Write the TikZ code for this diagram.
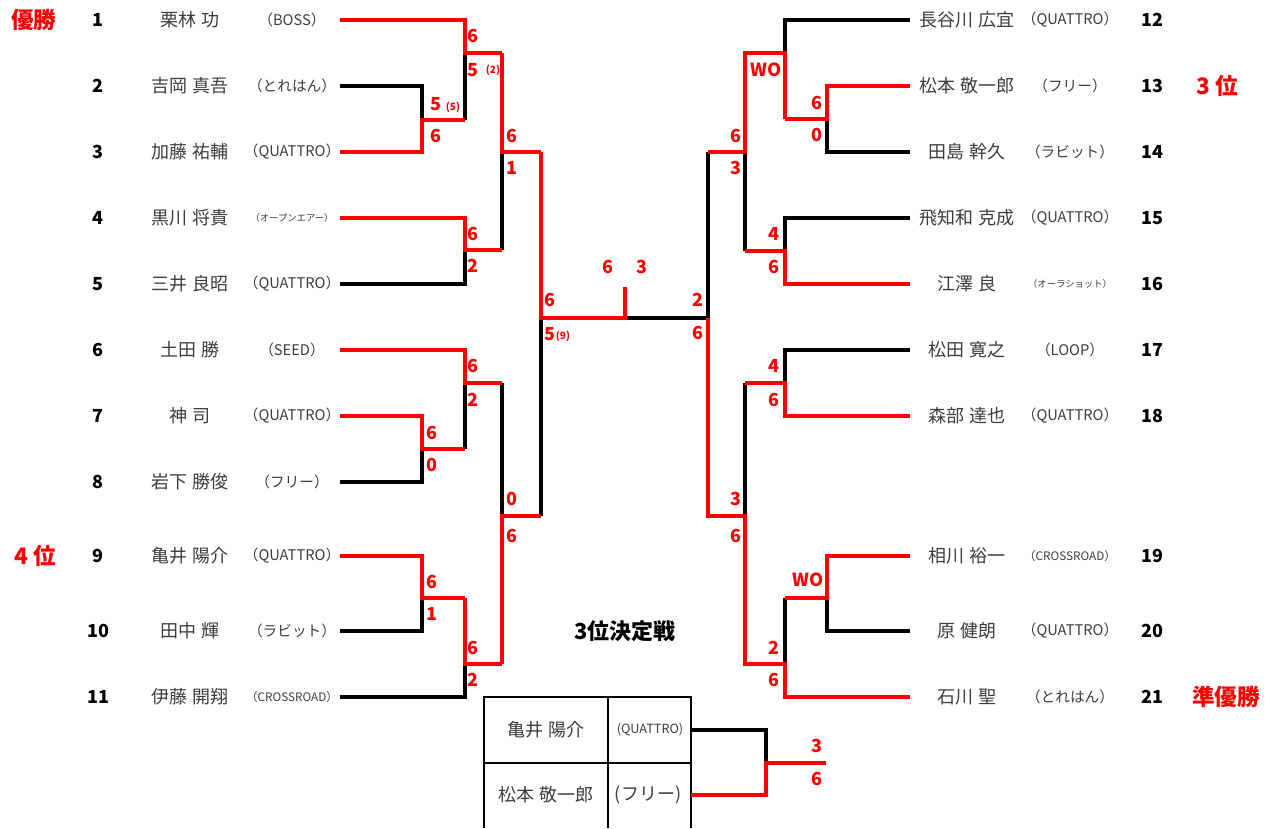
\documentclass[tikz,border=0pt]{standalone}
\usepackage{fontspec}
\setmainfont{Noto Sans CJK JP}
\definecolor{tred}{RGB}{255,0,0}
\definecolor{ngray}{RGB}{60,60,60}
\tikzset{every picture/.style={line width=0.75pt}}

\begin{document}
\begin{tikzpicture}[x=0.75pt,y=0.75pt,yscale=-1,xscale=1,
	win/.style={draw=tred,line width=3pt},
	lose/.style={draw=black,line width=2.6pt},
	tbl/.style={draw=black,line width=1.5pt},
	sc/.style={text=tred,font=\fontsize{13.5}{15}\selectfont\bfseries,inner sep=0pt},
	scs/.style={text=tred,font=\fontsize{7.5}{9}\selectfont\bfseries,inner sep=0pt},
	num/.style={font=\fontsize{13.5}{15}\selectfont\bfseries,inner sep=0pt},
	nm/.style={text=ngray,font=\fontsize{13.5}{15}\selectfont,inner sep=0pt},
	tm/.style={text=ngray,font=\fontsize{11}{13}\selectfont,inner sep=0pt},
	tmx/.style={text=ngray,font=\fontsize{8.8}{10}\selectfont,inner sep=0pt},
	tms/.style={text=ngray,font=\fontsize{7}{8}\selectfont,inner sep=0pt},
	rank/.style={text=tred,font=\fontsize{17}{19}\selectfont\bfseries,inner sep=0pt}]
	\useasboundingbox (0,0) rectangle (1277,828);
	
	%left players
	\coordinate (L1) at (340,20);
	\coordinate (L2) at (340,86);
	\coordinate (L3) at (340,152);
	\coordinate (L4) at (340,218);
	\coordinate (L5) at (340,284);
	\coordinate (L6) at (340,350);
	\coordinate (L7) at (340,416);
	\coordinate (L8) at (340,482);
	\coordinate (L9) at (340,556);
	\coordinate (L10) at (340,631);
	\coordinate (L11) at (340,697);
	%right players
	\coordinate (R12) at (910,20);
	\coordinate (R13) at (910,86);
	\coordinate (R14) at (910,152);
	\coordinate (R15) at (910,218);
	\coordinate (R16) at (910,284);
	\coordinate (R17) at (910,350);
	\coordinate (R18) at (910,416);
	\coordinate (R19) at (910,556);
	\coordinate (R20) at (910,631);
	\coordinate (R21) at (910,697);
	
	%match points
	\coordinate (m23) at (422,120);
	\coordinate (m13) at (465,53);
	\coordinate (m45) at (465,250);
	\coordinate (m15) at (502,152);
	\coordinate (m78) at (422,449);
	\coordinate (m68) at (465,383);
	\coordinate (m910) at (422,598);
	\coordinate (m911) at (465,664);
	\coordinate (m611) at (502,516);
	\coordinate (mL) at (541,318);
	\coordinate (fin) at (625,318);
	\coordinate (finT) at (625,287);
	\coordinate (m1314) at (827,119);
	\coordinate (m1214) at (785,53);
	\coordinate (m1516) at (785,251);
	\coordinate (m1216) at (745,152);
	\coordinate (m1718) at (785,383);
	\coordinate (m1920) at (827,598);
	\coordinate (m1921) at (785,664);
	\coordinate (m1721) at (745,516);
	\coordinate (mR) at (708,318);
	
	%losers
	\draw[lose] (L2) -| (m23);
	\draw[lose] (m23 -| m13) -- (m13);
	\draw[lose] (L5) -| (m45);
	\draw[lose] (m45 -| m15) -- (m15);
	\draw[lose] (L8) -| (m78);
	\draw[lose] (m78 -| m68) -- (m68);
	\draw[lose] (L10) -| (m910);
	\draw[lose] (L11) -| (m911);
	\draw[lose] (m68 -| m611) -- (m611);
	\draw[lose] (m611 -| mL) -- (mL);
	\draw[lose] (fin) -- (mR);
	\draw[lose] (R12) -| (m1214);
	\draw[lose] (R14) -| (m1314);
	\draw[lose] (R15) -| (m1516);
	\draw[lose] (m1516 -| m1216) -- (m1216);
	\draw[lose] (m1216 -| mR) -- (mR);
	\draw[lose] (R17) -| (m1718);
	\draw[lose] (m1718 -| m1721) -- (m1721);
	\draw[lose] (R20) -| (m1920);
	\draw[lose] (m1920 -| m1921) -- (m1921);
	
	%winners
	\draw[win] (L3) -| (m23) -- (m23 -| m13);
	\draw[win] (L1) -| (m13) -- (m13 -| m15);
	\draw[win] (L4) -| (m45) -- (m45 -| m15);
	\draw[win] (m13 -| m15) -- (m15) -- (m15 -| mL);
	\draw[win] (L7) -| (m78) -- (m78 -| m68);
	\draw[win] (L6) -| (m68) -- (m68 -| m611);
	\draw[win] (L9) -| (m910) -- (m910 -| m911);
	\draw[win] (m910 -| m911) -- (m911) -- (m911 -| m611);
	\draw[win] (m911 -| m611) -- (m611) -- (m611 -| mL);
	\draw[win] (m15 -| mL) -- (mL) -- (fin) -- (finT);
	\draw[win] (R13) -| (m1314) -- (m1314 -| m1214);
	\draw[win] (m1314 -| m1214) -- (m1214) -- (m1214 -| m1216) -- (m1216) -- (m1216 -| mR);
	\draw[win] (R16) -| (m1516) -- (m1516 -| m1216);
	\draw[win] (R18) -| (m1718) -- (m1718 -| m1721);
	\draw[win] (R19) -| (m1920) -- (m1920 -| m1921);
	\draw[win] (R21) -| (m1921) -- (m1921 -| m1721) -- (m1721) -- (m1721 -| mR) -- (mR);
	
	%3rd place table
	\draw[tbl] (484,828) -- (484,697) -- (691,697) -- (691,828);
	\draw[tbl] (608,697) -- (608,828);
	\draw[tbl] (484,763) -- (691,763);
	\coordinate (q1) at (691,730);
	\coordinate (q2) at (691,795);
	\coordinate (m3rd) at (766,763);
	\coordinate (e3rd) at (826,763);
	\draw[lose] (q1) -| (m3rd);
	\draw[win] (q2) -| (m3rd) -- (e3rd);
	
	%numbers
	\node[num] (n1) at (98,20) {1};
	\node[num] (n2) at (98,86) {2};
	\node[num] (n3) at (98,152) {3};
	\node[num] (n4) at (98,218) {4};
	\node[num] (n5) at (98,284) {5};
	\node[num] (n6) at (98,350) {6};
	\node[num] (n7) at (98,416) {7};
	\node[num] (n8) at (98,482) {8};
	\node[num] (n9) at (98,556) {9};
	\node[num] (n10) at (98,631) {10};
	\node[num] (n11) at (98,697) {11};
	\node[num] (n12) at (1152,20) {12};
	\node[num] (n13) at (1152,86) {13};
	\node[num] (n14) at (1152,152) {14};
	\node[num] (n15) at (1152,218) {15};
	\node[num] (n16) at (1152,284) {16};
	\node[num] (n17) at (1152,350) {17};
	\node[num] (n18) at (1152,416) {18};
	\node[num] (n19) at (1152,556) {19};
	\node[num] (n20) at (1152,631) {20};
	\node[num] (n21) at (1152,697) {21};
	
	%names
	\node[nm] (nm1) at (190,20) {栗林 功};
	\node[nm] (nm2) at (190,86) {吉岡 真吾};
	\node[nm] (nm3) at (190,152) {加藤 祐輔};
	\node[nm] (nm4) at (190,218) {黒川 将貴};
	\node[nm] (nm5) at (190,284) {三井 良昭};
	\node[nm] (nm6) at (190,350) {土田 勝};
	\node[nm] (nm7) at (190,416) {神 司};
	\node[nm] (nm8) at (190,482) {岩下 勝俊};
	\node[nm] (nm9) at (190,556) {亀井 陽介};
	\node[nm] (nm10) at (190,631) {田中 輝};
	\node[nm] (nm11) at (190,697) {伊藤 開翔};
	\node[nm] (nm12) at (967,20) {長谷川 広宜};
	\node[nm] (nm13) at (967,86) {松本 敬一郎};
	\node[nm] (nm14) at (967,152) {田島 幹久};
	\node[nm] (nm15) at (967,218) {飛知和 克成};
	\node[nm] (nm16) at (967,284) {江澤 良};
	\node[nm] (nm17) at (967,350) {松田 寛之};
	\node[nm] (nm18) at (967,416) {森部 達也};
	\node[nm] (nm19) at (967,556) {相川 裕一};
	\node[nm] (nm20) at (967,631) {原 健朗};
	\node[nm] (nm21) at (967,697) {石川 聖};
	
	%teams
	\node[tm] (tm1) at (292,20) {（BOSS）};
	\node[tm] (tm2) at (292,86) {（とれはん）};
	\node[tm] (tm3) at (292,152) {（QUATTRO）};
	\node[tms] (tm4) at (292,218) {（オープンエアー）};
	\node[tm] (tm5) at (292,284) {（QUATTRO）};
	\node[tm] (tm6) at (292,350) {（SEED）};
	\node[tm] (tm7) at (292,416) {（QUATTRO）};
	\node[tm] (tm8) at (292,482) {（フリー）};
	\node[tm] (tm9) at (292,556) {（QUATTRO）};
	\node[tm] (tm10) at (292,631) {（ラビット）};
	\node[tmx] (tm11) at (292,697) {（CROSSROAD）};
	\node[tm] (tm12) at (1070,20) {（QUATTRO）};
	\node[tm] (tm13) at (1070,86) {（フリー）};
	\node[tm] (tm14) at (1070,152) {（ラビット）};
	\node[tm] (tm15) at (1070,218) {（QUATTRO）};
	\node[tms] (tm16) at (1070,284) {（オーラショット）};
	\node[tm] (tm17) at (1070,350) {（LOOP）};
	\node[tm] (tm18) at (1070,416) {（QUATTRO）};
	\node[tmx] (tm19) at (1070,556) {（CROSSROAD）};
	\node[tm] (tm20) at (1070,631) {（QUATTRO）};
	\node[tm] (tm21) at (1070,697) {（とれはん）};
	
	%ranks
	\node[rank] (r1) at (34,20) {優勝};
	\node[rank] (r4) at (35,556) {4 位};
	\node[rank] (r3) at (1217,86) {3 位};
	\node[rank] (r2) at (1226,697) {準優勝};
	\node[font=\fontsize{16.5}{18}\selectfont\bfseries,inner sep=0pt] (ttl) at (625,631) {3位決定戦};
	
	%3rd place table text
	\node[nm] (t1n) at (546,730) {亀井 陽介};
	\node[font=\fontsize{9.5}{11}\selectfont,text=ngray,inner sep=0pt] (t1t) at (650,730) {(QUATTRO)};
	\node[nm] (t2n) at (546,795) {松本 敬一郎};
	\node[nm] (t2t) at (648,795) {(フリー)};
	
	%scores left
	\node[sc] (s1a) at (473,36) {6};
	\node[sc] (s1b) at (473,70) {5};
	\node[scs] (s1c) at (493,70) {(2)};
	\node[sc] (s2a) at (436,104) {5};
	\node[scs] (s2c) at (453,107) {(5)};
	\node[sc] (s2b) at (436,136) {6};
	\node[sc] (s3a) at (473,234) {6};
	\node[sc] (s3b) at (473,266) {2};
	\node[sc] (s4a) at (512,136) {6};
	\node[sc] (s4b) at (512,168) {1};
	\node[sc] (s5a) at (473,366) {6};
	\node[sc] (s5b) at (473,400) {2};
	\node[sc] (s6a) at (432,433) {6};
	\node[sc] (s6b) at (432,465) {0};
	\node[sc] (s7a) at (512,499) {0};
	\node[sc] (s7b) at (512,536) {6};
	\node[sc] (s8a) at (432,582) {6};
	\node[sc] (s8b) at (432,614) {1};
	\node[sc] (s9a) at (473,648) {6};
	\node[sc] (s9b) at (473,680) {2};
	\node[sc] (s10a) at (550,300) {6};
	\node[sc] (s10b) at (550,334) {5};
	\node[scs] (s10c) at (563,336) {(9)};
	\node[sc] (f1) at (608,267) {6};
	\node[sc] (f2) at (642,267) {3};
	
	%scores right
	\node[sc] (t1a) at (766,70) {WO};
	\node[sc] (t2a) at (817,103) {6};
	\node[sc] (t2b) at (817,135) {0};
	\node[sc] (t3a) at (736,136) {6};
	\node[sc] (t3b) at (736,168) {3};
	\node[sc] (t4a) at (774,234) {4};
	\node[sc] (t4b) at (774,267) {6};
	\node[sc] (t5a) at (698,300) {2};
	\node[sc] (t5b) at (698,333) {6};
	\node[sc] (t6a) at (774,366) {4};
	\node[sc] (t6b) at (774,400) {6};
	\node[sc] (t7a) at (736,499) {3};
	\node[sc] (t7b) at (736,536) {6};
	\node[sc] (t8a) at (808,580) {WO};
	\node[sc] (t8b) at (774,648) {2};
	\node[sc] (t8c) at (774,680) {6};
	\node[sc] (t9a) at (817,746) {3};
	\node[sc] (t9b) at (817,779) {6};
	
\end{tikzpicture}
\end{document}
